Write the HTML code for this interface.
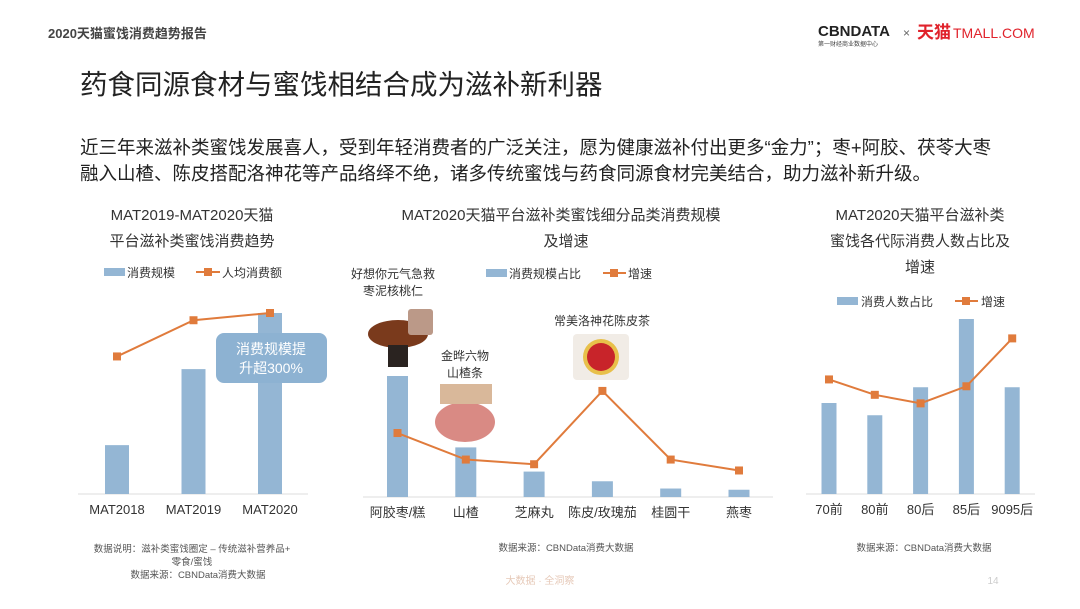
<!DOCTYPE html>
<html><head><meta charset="utf-8">
<style>
body{margin:0;width:1080px;height:604px;background:#fff;overflow:hidden;font-family:"Liberation Sans","Noto Sans CJK SC",sans-serif;}
svg text{font-family:"Liberation Sans","Noto Sans CJK SC",sans-serif;}
</style></head>
<body>
<svg id="s" width="1080" height="604" viewBox="0 0 1080 604" xmlns="http://www.w3.org/2000/svg">
<text x="48" y="38" font-size="13" font-weight="bold" fill="#444">2020天猫蜜饯消费趋势报告</text>
<g>
<text x="818" y="36" font-size="15" font-weight="bold" fill="#222">CBNDATA</text>
<text x="818" y="46" font-size="6" fill="#444">第一财经商业数据中心</text>
<text x="903" y="37" font-size="12" fill="#666">×</text>
<text x="917" y="38" font-size="17" font-weight="bold" fill="#e0222b">天猫</text>
<text x="953" y="38" font-size="14" fill="#e0222b">TMALL.COM</text>
</g>
<text x="80" y="94" font-size="27.5" fill="#222">药食同源食材与蜜饯相结合成为滋补新利器</text>
<text x="80" y="154" font-size="18.5" fill="#222">近三年来滋补类蜜饯发展喜人，受到年轻消费者的广泛关注，愿为健康滋补付出更多“金力”；枣+阿胶、茯苓大枣</text>
<text x="80" y="180" font-size="18.5" fill="#222">融入山楂、陈皮搭配洛神花等产品络绎不绝，诸多传统蜜饯与药食同源食材完美结合，助力滋补新升级。</text>

<text x="192" y="220" font-size="15" fill="#333" text-anchor="middle">MAT2019-MAT2020天猫</text>
<text x="192" y="246" font-size="15" fill="#333" text-anchor="middle">平台滋补类蜜饯消费趋势</text>
<g>
<rect x="104" y="268" width="21" height="8" fill="#94b6d4"/><text x="127" y="277" font-size="12" fill="#333">消费规模</text>
<line x1="196" y1="272" x2="220" y2="272" stroke="#e07b3c" stroke-width="2"/><rect x="204" y="268" width="8" height="8" fill="#e07b3c"/><text x="222" y="277" font-size="12" fill="#333">人均消费额</text>
</g>
<text x="192" y="552" font-size="9.5" fill="#555" text-anchor="middle">数据说明：滋补类蜜饯圈定 – 传统滋补营养品+</text>
<text x="192" y="565" font-size="9.5" fill="#555" text-anchor="middle">零食/蜜饯</text>
<text x="198" y="578" font-size="9.5" fill="#555" text-anchor="middle">数据来源：CBNData消费大数据</text>

<text x="561" y="220" font-size="15" fill="#333" text-anchor="middle">MAT2020天猫平台滋补类蜜饯细分品类消费规模</text>
<text x="566" y="246" font-size="15" fill="#333" text-anchor="middle">及增速</text>
<g>
<rect x="486" y="269" width="21" height="8" fill="#94b6d4"/><text x="509" y="278" font-size="12" fill="#333">消费规模占比</text>
<line x1="603" y1="273" x2="626" y2="273" stroke="#e07b3c" stroke-width="2"/><rect x="610" y="269" width="8" height="8" fill="#e07b3c"/><text x="628" y="278" font-size="12" fill="#333">增速</text>
</g>
<text x="393" y="278" font-size="12" fill="#333" text-anchor="middle">好想你元气急救</text>
<text x="393" y="295" font-size="12" fill="#333" text-anchor="middle">枣泥核桃仁</text>
<text x="465" y="360" font-size="12" fill="#333" text-anchor="middle">金晔六物</text>
<text x="465" y="377" font-size="12" fill="#333" text-anchor="middle">山楂条</text>
<text x="602" y="325" font-size="12" fill="#333" text-anchor="middle">常美洛神花陈皮茶</text>
<g>
<ellipse cx="398" cy="334" rx="30" ry="14" fill="#7a3a1c"/><rect x="388" y="345" width="20" height="22" fill="#2a2320"/><rect x="408" y="309" width="25" height="26" fill="#b98" rx="3"/>
</g>
<g>
<ellipse cx="465" cy="422" rx="30" ry="20" fill="#d98a84"/><rect x="440" y="384" width="52" height="20" fill="#d9b89a"/>
</g>
<g>
<rect x="573" y="334" width="56" height="46" rx="4" fill="#f1ece6"/><circle cx="601" cy="357" r="18" fill="#e8c04a"/><circle cx="601" cy="357" r="14" fill="#c8242a"/>
</g>
<text x="566" y="551" font-size="9.5" fill="#555" text-anchor="middle">数据来源：CBNData消费大数据</text>

<text x="920" y="220" font-size="15" fill="#333" text-anchor="middle">MAT2020天猫平台滋补类</text>
<text x="920" y="246" font-size="15" fill="#333" text-anchor="middle">蜜饯各代际消费人数占比及</text>
<text x="920" y="272" font-size="15" fill="#333" text-anchor="middle">增速</text>
<g>
<rect x="837" y="297" width="21" height="8" fill="#94b6d4"/><text x="861" y="306" font-size="12" fill="#333">消费人数占比</text>
<line x1="955" y1="301" x2="978" y2="301" stroke="#e07b3c" stroke-width="2"/><rect x="962" y="297" width="8" height="8" fill="#e07b3c"/><text x="981" y="306" font-size="12" fill="#333">增速</text>
</g>
<text x="924" y="551" font-size="9.5" fill="#555" text-anchor="middle">数据来源：CBNData消费大数据</text>

<text x="540" y="584" font-size="10" fill="#e6c9b8" text-anchor="middle">大数据 · 全洞察</text>
<text x="993" y="584" font-size="10" fill="#ccc" text-anchor="middle">14</text>
<g id="charts"></g>
</svg>
<script>
// chart 1
const c1Cats=["MAT2018","MAT2019","MAT2020"];
const c1Bars=[27,69,100];
const c1Line=[76,96,100];
// chart 2
const c2Cats=["阿胶枣/糕","山楂","芝麻丸","陈皮/玫瑰茄","桂圆干","燕枣"];
const c2Bars=[100,41,21,13,7,6];
const c2Line=[41,24,21,68,24,17];
// chart 3
const c3Cats=["70前","80前","80后","85后","9095后"];
const c3Bars=[52,45,61,100,61];
const c3Line=[67,58,53,63,91];

const NS="http://www.w3.org/2000/svg";
const root=document.getElementById('charts');
function mk(tag,attrs){const e=document.createElementNS(NS,tag);for(const k in attrs)e.setAttribute(k,attrs[k]);root.appendChild(e);return e;}
function draw(id,cats,bars,line,o){
  const xs=i=>o.x0+i*o.step;
  const yb=v=>o.base-v/100*o.bh;
  const yl=v=>o.lb-v/100*o.lh;
  const ax=mk('line',{x1:o.ax1,x2:o.ax2,y1:o.base,y2:o.base,stroke:'#ddd','stroke-width':1});
  
  
  cats.forEach((c,i)=>{
    const r=mk('rect',{x:xs(i)-o.bw/2,y:yb(bars[i]),width:o.bw,height:o.base-yb(bars[i]),fill:'#94b6d4'});
    
    
    const t=mk('text',{x:xs(i),y:o.base+20,'font-size':13,fill:'#333','text-anchor':'middle'});
    t.textContent=c;
    
    
  });
  const pl=mk('polyline',{points:line.map((v,i)=>xs(i)+','+yl(v)).join(' '),fill:'none',stroke:'#e07b3c','stroke-width':2});
  
  
  line.forEach((v,i)=>{
    const m=mk('rect',{x:xs(i)-4,y:yl(v)-4,width:8,height:8,fill:'#e07b3c'});
    
    
  });
}
draw('chart1',c1Cats,c1Bars,c1Line,{x0:117,step:76.5,bw:24,base:494,bh:181,lb:494,lh:181,ax1:78,ax2:308});
draw('chart2',c2Cats,c2Bars,c2Line,{x0:397.5,step:68.3,bw:21,base:497,bh:121,lb:497,lh:156,ax1:363,ax2:773});
draw('chart3',c3Cats,c3Bars,c3Line,{x0:829,step:45.8,bw:15,base:494,bh:175,lb:494,lh:171,ax1:806,ax2:1035});
const cb=mk('rect',{x:216,y:333,width:111,height:50,rx:8,fill:'#8db2d2'});


const t1=mk('text',{x:271,y:354,'font-size':14,fill:'#fff','text-anchor':'middle'});t1.textContent='消费规模提';


const t2=mk('text',{x:271,y:373,'font-size':14,fill:'#fff','text-anchor':'middle'});t2.textContent='升超300%';


</script>
</body></html>
